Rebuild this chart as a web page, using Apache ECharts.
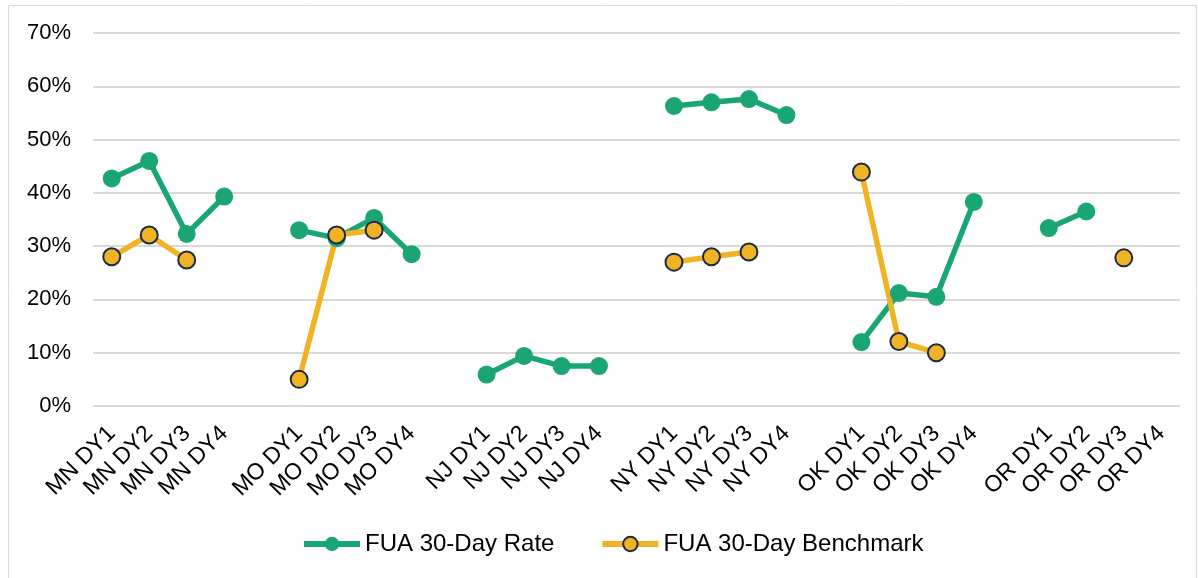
<!DOCTYPE html>
<html><head><meta charset="utf-8">
<script src="https://cdn.jsdelivr.net/npm/echarts@6/dist/echarts.min.js"></script>
<style>html,body{margin:0;padding:0;background:#fff}#c{width:1198px;height:578px}</style>
</head><body><div id="c"></div>
<script>
const categories = ['MN DY1','MN DY2','MN DY3','MN DY4','',
  'MO DY1','MO DY2','MO DY3','MO DY4',' ',
  'NJ DY1','NJ DY2','NJ DY3','NJ DY4','  ',
  'NY DY1','NY DY2','NY DY3','NY DY4','   ',
  'OK DY1','OK DY2','OK DY3','OK DY4','    ',
  'OR DY1','OR DY2','OR DY3','OR DY4'];
const rate = [42.7,46.0,32.3,39.3,null,
  33.0,31.5,35.3,28.5,null,
  5.9,9.4,7.5,7.5,null,
  56.3,57.0,57.6,54.6,null,
  12.0,21.2,20.5,38.3,null,
  33.4,36.5,null,null];
const benchmark = [28.0,32.1,27.4,null,null,
  5.0,32.1,33.0,null,null,
  null,null,null,null,null,
  27.0,28.0,28.9,null,null,
  43.9,12.1,10.0,null,null,
  null,null,27.8,null];
const yTicks = [0,10,20,30,40,50,60,70];

const FONT = 'Liberation Sans, Arial, sans-serif';
const chart = echarts.init(document.getElementById('c'));
chart.setOption({
  animation:false,
  textStyle:{fontFamily:FONT},
  graphic:[{type:'rect',shape:{x:8.5,y:5.5,width:1188,height:580},style:{fill:'none',stroke:'#d9d9d9',lineWidth:1},silent:true}],
  grid:{left:93,right:18,top:33,bottom:172,containLabel:false},
  legend:{top:527,left:296,itemWidth:56,itemHeight:18,itemGap:45,
    lineStyle:{width:6},
    textStyle:{fontSize:24,color:'#000',fontFamily:FONT},
    data:[{name:'FUA 30-Day Rate'},{name:'FUA 30-Day Benchmark'}]},
  xAxis:{type:'category',data:categories,boundaryGap:true,
    axisLine:{show:false},axisTick:{show:false},
    axisLabel:{interval:0,rotate:45,fontSize:23,color:'#000',margin:24}},
  yAxis:{type:'value',min:yTicks[0],max:yTicks[yTicks.length-1],interval:10,
    axisLine:{show:false},axisTick:{show:false},
    axisLabel:{fontSize:22,color:'#000',margin:22,formatter:v=>v+'%'},
    splitLine:{lineStyle:{color:'#d9d9d9',width:2}}},
  series:[
    {name:'FUA 30-Day Rate',type:'line',data:rate,connectNulls:false,
     symbol:'circle',symbolSize:18,
     lineStyle:{color:'#1aa673',width:5.5},
     itemStyle:{color:'#1aa673',borderWidth:0}},
    {name:'FUA 30-Day Benchmark',type:'line',data:benchmark,connectNulls:false,
     symbol:'circle',symbolSize:17,
     lineStyle:{color:'#f0b323',width:5.5},
     itemStyle:{color:'#f0b323',borderColor:'#1b2a47',borderWidth:2}}
  ]
});
</script></body></html>
